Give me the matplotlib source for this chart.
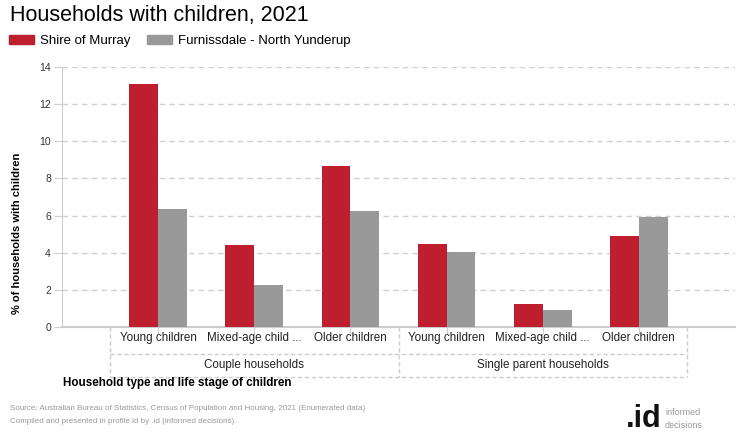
import matplotlib.pyplot as plt
import numpy as np
from matplotlib.patches import Patch
from matplotlib.transforms import blended_transform_factory

plt.rcParams['font.family'] = ['Liberation Sans', 'DejaVu Sans']

title = 'Households with children, 2021'
series_names = ['Shire of Murray', 'Furnissdale - North Yunderup']
categories = ['Young children', 'Mixed-age child ...', 'Older children',
              'Young children', 'Mixed-age child ...', 'Older children']
groups = ['Couple households', 'Single parent households']
murray = [13.08, 4.42, 8.67, 4.49, 1.24, 4.92]
furnissdale = [6.35, 2.26, 6.25, 4.05, 0.92, 5.95]
y_ticks = [0, 2, 4, 6, 8, 10, 12, 14]

RED = '#be1e2d'
GREY = '#999999'
LINE = '#cccccc'

W, H = 740, 440
fig = plt.figure(figsize=(W / 100, H / 100), dpi=100)


def fy(px):
    # figure fraction from a pixel row counted from the top
    return 1 - px / H


ax = fig.add_axes([62 / W, fy(327), (735 - 62) / W, (327 - 67) / H])

x = np.arange(len(categories))
bw = 0.3
ax.bar(x - bw / 2, murray, width=bw, color=RED, zorder=3)
ax.bar(x + bw / 2, furnissdale, width=bw, color=GREY, zorder=3)

ax.set_xlim(-1, 6)
ax.set_ylim(0, 14)
ax.set_yticks(y_ticks)
ax.set_yticklabels([str(t) for t in y_ticks], fontsize=7.5, color='#333333')
ax.yaxis.grid(True, linestyle=(0, (4, 3)), color='#d0d0d0', linewidth=1, zorder=0)
ax.tick_params(axis='y', length=6, color=LINE, pad=2)
ax.set_xticks(x)
ax.set_xticklabels([])
ax.tick_params(axis='x', length=5, color=LINE)

for s in ['top', 'right']:
    ax.spines[s].set_visible(False)
ax.spines['left'].set_color(LINE)
ax.spines['bottom'].set_color(LINE)
ax.spines['bottom'].set_linewidth(1.5)

# category labels and group boxes under the axis
tr = blended_transform_factory(ax.transData, fig.transFigure)
for xi, lab in zip(x, categories):
    ax.text(xi, fy(338), lab, transform=tr, ha='center', va='center',
            fontsize=8.4, color='#222222')
dash = dict(color=LINE, linestyle=(0, (3, 2)), linewidth=1, clip_on=False, transform=tr)
for xb in [-0.5, 2.5, 5.5]:
    ax.plot([xb, xb], [fy(327), fy(377)], **dash)
for yb in [354, 377]:
    ax.plot([-0.5, 5.5], [fy(yb), fy(yb)], **dash)
for gi, g in enumerate(groups):
    ax.text(1 + 3 * gi, fy(365), g, transform=tr, ha='center', va='center',
            fontsize=8.4, color='#222222')

fig.text(63 / W, fy(383), 'Household type and life stage of children',
         fontsize=8.4, fontweight='bold', ha='left', va='center')
fig.text(17 / W, fy(233), '% of households with children', rotation=90,
         fontsize=8, fontweight='bold', ha='center', va='center')

fig.text(10 / W, fy(15), title, fontsize=15.5, ha='left', va='center')
handles = [Patch(color=RED), Patch(color=GREY)]
fig.legend(handles, series_names, loc='center left', bbox_to_anchor=(4 / W, fy(41)),
           ncol=2, frameon=False, fontsize=9.5, handlelength=1.9, handleheight=0.65,
           handletextpad=0.4, columnspacing=1.3, borderaxespad=0)

fig.text(10 / W, fy(408), 'Source: Australian Bureau of Statistics, Census of Population and Housing, 2021 (Enumerated data)',
         fontsize=5.8, color='#999999', ha='left', va='center')
fig.text(10 / W, fy(421), 'Compiled and presented in profile.id by .id (informed decisions).',
         fontsize=5.8, color='#999999', ha='left', va='center')

fig.text(662 / W, fy(419), '.id', fontsize=22, fontweight='bold', color='#111111',
         ha='right', va='center')
fig.text(665 / W, fy(412), 'informed', fontsize=6.5, color='#999999', ha='left', va='center')
fig.text(665 / W, fy(425), 'decisions', fontsize=6.5, color='#999999', ha='left', va='center')

fig.savefig('out.png', dpi=100)
